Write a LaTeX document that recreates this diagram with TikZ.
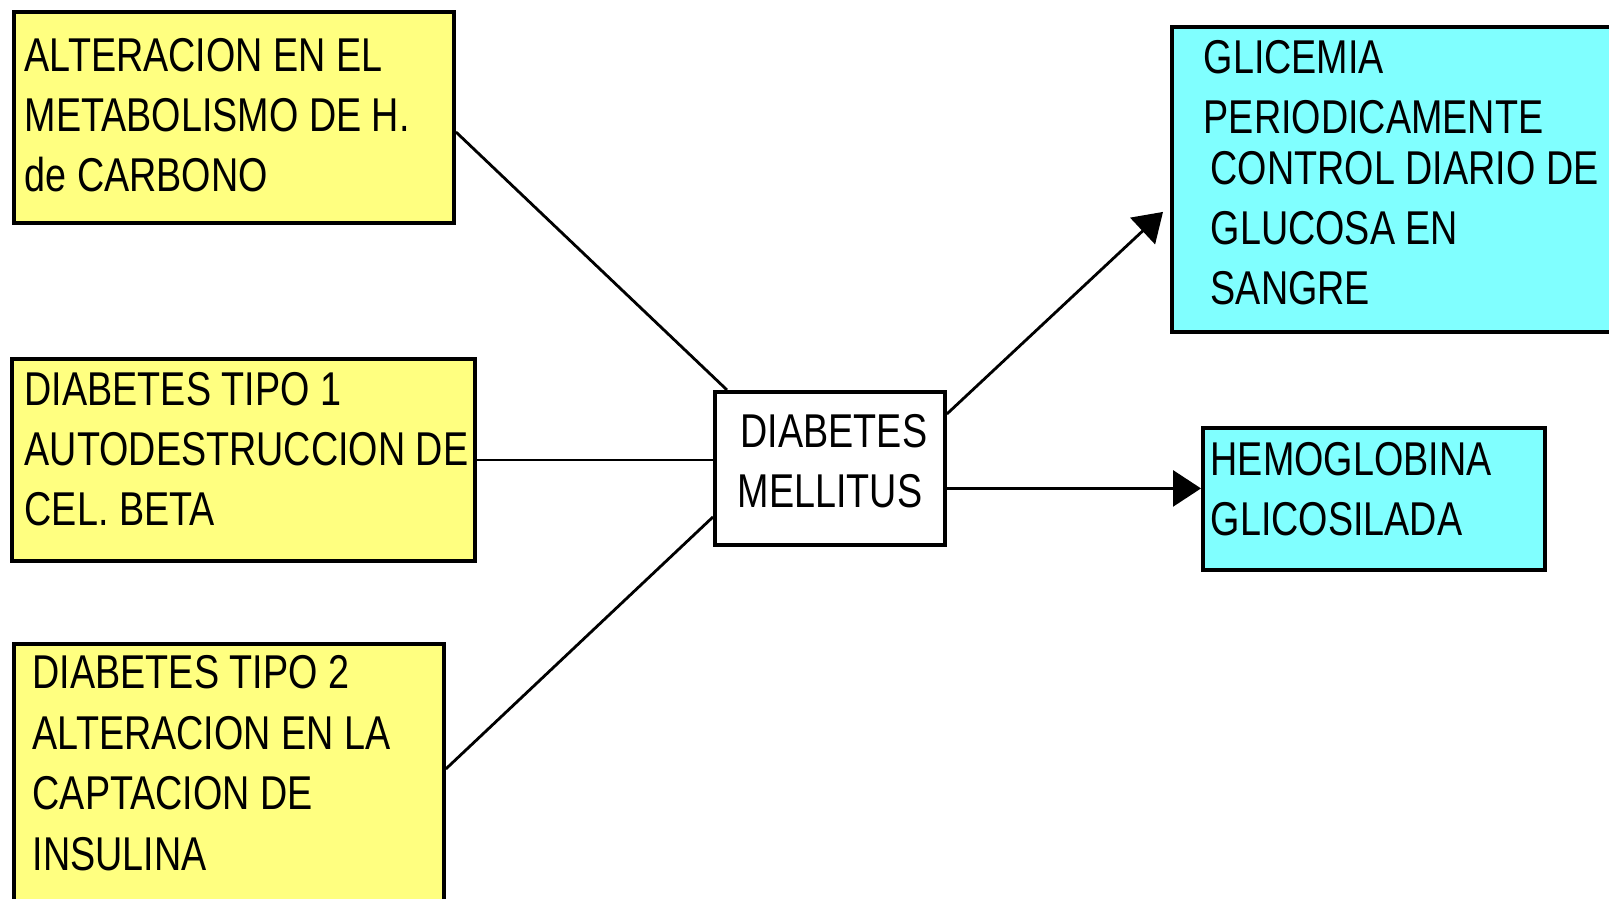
\documentclass[tikz,border=0pt]{standalone}
\usepackage{fontspec}
\setmainfont{Liberation Sans}[FakeStretch=0.795]
\usetikzlibrary{shapes,arrows.meta,positioning}
\definecolor{causafill}{RGB}{255,255,128}
\definecolor{pruebafill}{RGB}{128,255,255}
\tikzset{
  causa/.style  = {draw, line width=1.1pt, fill=causafill, anchor=north west, inner sep=0pt},
  prueba/.style = {draw, line width=1.1pt, fill=pruebafill, anchor=north west, inner sep=0pt},
  centro/.style = {draw, line width=1.1pt, fill=white, anchor=north west, inner sep=0pt},
  texto/.style  = {anchor=base west, align=left, inner sep=0pt,
                   font=\fontsize{13.5pt}{17.2pt}\selectfont},
  enlace/.style = {line width=0.8pt},
  flecha/.style = {line width=0.8pt, -{Triangle[length=0.28cm,width=0.36cm]}}
}

\begin{document}
\begin{tikzpicture}
	\useasboundingbox (0,0) rectangle (16.09,-8.99);
	% cajas
	\node[causa, minimum width=4.40cm, minimum height=2.11cm] (alt) at (0.12,-0.10) {};
	\node[causa, minimum width=4.63cm, minimum height=2.02cm] (tipo1) at (0.10,-3.57) {};
	\node[causa, minimum width=4.30cm, minimum height=2.70cm] (tipo2) at (0.12,-6.42) {};
	\node[centro, minimum width=2.30cm, minimum height=1.53cm] (dm) at (7.13,-3.90) {};
	\node[prueba, minimum width=4.60cm, minimum height=3.05cm] (gluc) at (11.70,-0.25) {};
	\node[prueba, minimum width=3.42cm, minimum height=1.42cm] (hb) at (12.01,-4.26) {};
	% textos (base = ultima linea)
	\node[texto] (altT) at (0.24,-1.92) {ALTERACION EN EL\\METABOLISMO DE H.\\de CARBONO};
	\node[texto] (tipo1T) at (0.24,-5.26) {DIABETES TIPO 1\\AUTODESTRUCCION DE\\CEL. BETA};
	\node[texto] (tipo2T) at (0.32,-8.70) {DIABETES TIPO 2\\ALTERACION EN LA\\CAPTACION DE\\INSULINA};
	\node[texto] (dmT) at (7.40,-5.08) {DIABETES\\\hspace*{-0.03cm}MELLITUS};
	\node[texto] (glucT) at (12.03,-3.05) {GLICEMIA\\PERIODICAMENTE\\[-0.1cm]\hspace*{0.07cm}CONTROL DIARIO DE\\\hspace*{0.07cm}GLUCOSA EN\\\hspace*{0.07cm}SANGRE};
	\node[texto] (hbT) at (12.10,-5.36) {HEMOGLOBINA\\GLICOSILADA};
	% conectores
	\draw[enlace] ([yshift=-0.145cm]alt.east) -- ([xshift=0.14cm]dm.north west);
	\draw[enlace] (tipo1.east) -- (tipo1.east -| dm.west);
	\draw[enlace] ([yshift=0.10cm]tipo2.east) -- ([yshift=-0.485cm]dm.west);
	\draw[flecha] ([yshift=-0.24cm]dm.north east) -- ([xshift=-0.07cm,yshift=-0.325cm]gluc.west);
	\draw[flecha] ([yshift=-0.20cm]dm.east) -- ([yshift=-0.20cm]dm.east -| hb.west);
\end{tikzpicture}
\end{document}
